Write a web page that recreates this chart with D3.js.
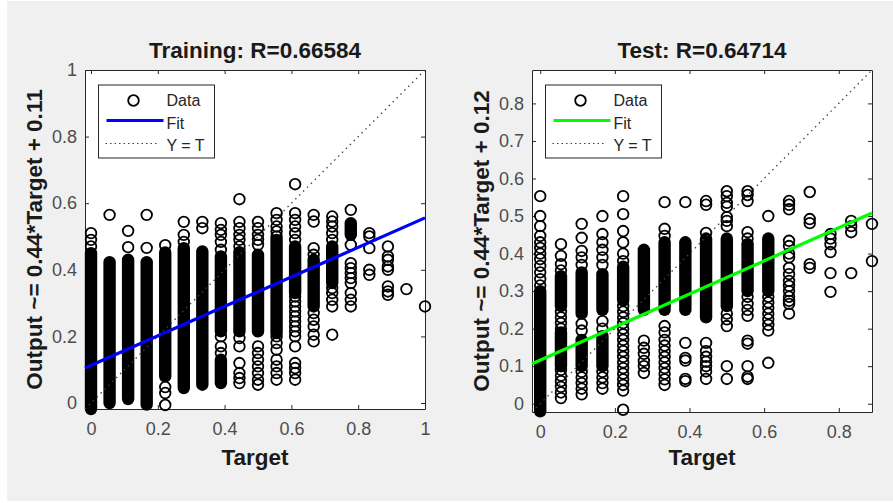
<!DOCTYPE html>
<html>
<head>
<meta charset="utf-8">
<title>Regression: Training / Test</title>
<style>
  body { margin: 0; background: #fff; }
  svg text { font-family: "Liberation Sans", Arial, sans-serif; }
</style>
</head>
<body>
<script src="https://d3js.org/d3.v7.min.js"></script>
<script>

// target values (columns of the scatter)
var targets = [0, 0.0556, 0.1111, 0.1667, 0.2222, 0.2778, 0.3333, 0.3889, 0.4444, 0.5,
               0.5556, 0.6111, 0.6667, 0.7222, 0.7778, 0.8333, 0.8889, 0.9444, 1];

// training outputs that show as separate circles, one list per target column
var trainOutputs = [
  [0.51, 0.49, 0.47],
  [0.565],
  [0.517, 0.468],
  [0.565, 0.466],
  [0.474, 0.048, 0.03, -0.006],
  [0.544, 0.505, 0.484],
  [0.544, 0.525],
  [0.54, 0.52, 0.505, 0.484, 0.46, 0.2, 0.17, 0.15],
  [0.612, 0.544, 0.525, 0.505, 0.49, 0.47, 0.195, 0.17, 0.12, 0.09, 0.075, 0.06],
  [0.544, 0.525, 0.505, 0.49, 0.475, 0.17, 0.15, 0.13, 0.11, 0.09, 0.07, 0.055],
  [0.57, 0.55, 0.53, 0.515, 0.5, 0.2, 0.18, 0.16, 0.13, 0.11, 0.09, 0.07],
  [0.657, 0.57, 0.55, 0.53, 0.51, 0.49, 0.32, 0.305, 0.29, 0.275, 0.26, 0.245, 0.23, 0.215, 0.2, 0.17, 0.12, 0.105, 0.09, 0.07],
  [0.565, 0.545, 0.465, 0.445, 0.27, 0.25, 0.23, 0.205, 0.185],
  [0.56, 0.545, 0.53, 0.51, 0.49, 0.345, 0.33, 0.31, 0.29, 0.205],
  [0.58, 0.475, 0.42, 0.405, 0.39, 0.375, 0.36, 0.33, 0.31, 0.29],
  [0.51, 0.5, 0.465, 0.4, 0.385],
  [0.47, 0.44, 0.43, 0.41, 0.4, 0.35, 0.335, 0.325],
  [0.342],
  [0.29]
];
// training stretches packed so tight they read as one black bar: [column, from, to]
var trainSolid = [
  [0, -0.018, 0.45], [1, 0.0, 0.423], [2, 0.012, 0.43], [3, -0.005, 0.423],
  [4, 0.08, 0.452], [5, 0.045, 0.465], [6, 0.055, 0.455], [7, 0.215, 0.44],
  [7, 0.06, 0.13], [8, 0.215, 0.453], [9, 0.215, 0.445], [10, 0.21, 0.49],
  [11, 0.33, 0.47], [12, 0.29, 0.43], [13, 0.36, 0.47], [14, 0.505, 0.54]
];

// test outputs, one list per target column
var testOutputs = [
  [0.553, 0.5, 0.473, 0.447, 0.43, 0.415, 0.4, 0.385, 0.367, 0.35, 0.332, 0.315],
  [0.425, 0.394, 0.372, 0.355, 0.245, 0.23, 0.215, 0.2, 0.09, 0.075, 0.06, 0.045, 0.03, 0.015],
  [0.479, 0.442, 0.407, 0.39, 0.37, 0.213, 0.195, 0.085, 0.07, 0.055, 0.04, 0.025],
  [0.5, 0.452, 0.43, 0.41, 0.39, 0.37, 0.22, 0.2, 0.085, 0.07, 0.055, 0.04],
  [0.553, 0.505, 0.46, 0.43, 0.4, 0.38, 0.26, 0.245, 0.23, 0.215, 0.2, 0.185, 0.17, 0.155,
   0.14, 0.125, 0.11, 0.095, 0.08, 0.065, 0.05, 0.035, -0.016],
  [0.168, 0.149, 0.133, 0.114, 0.1, 0.082],
  [0.537, 0.466, 0.447, 0.207, 0.19, 0.17, 0.155, 0.14, 0.125, 0.11, 0.095, 0.08, 0.065, 0.05],
  [0.537, 0.162, 0.122, 0.115, 0.066, 0.06],
  [0.54, 0.53, 0.455, 0.162, 0.14, 0.125, 0.112, 0.1, 0.086, 0.066],
  [0.566, 0.553, 0.535, 0.525, 0.497, 0.487, 0.473, 0.24, 0.225, 0.207, 0.1, 0.066],
  [0.566, 0.556, 0.54, 0.457, 0.44, 0.285, 0.266, 0.25, 0.234, 0.168, 0.16, 0.1, 0.072, 0.066],
  [0.5, 0.285, 0.27, 0.255, 0.24, 0.225, 0.21, 0.195, 0.109],
  [0.54, 0.53, 0.518, 0.434, 0.42, 0.4, 0.39, 0.362, 0.345, 0.327, 0.314, 0.3, 0.285, 0.274, 0.266, 0.24],
  [0.564, 0.492, 0.481, 0.372, 0.362],
  [0.452, 0.44, 0.425, 0.404, 0.348, 0.298],
  [0.487, 0.473, 0.457, 0.348],
  [0.479, 0.38]
];
var testSolid = [
  [0, -0.02, 0.3], [1, 0.26, 0.34], [1, 0.1, 0.19], [2, 0.24, 0.35], [2, 0.1, 0.17],
  [3, 0.25, 0.345], [3, 0.1, 0.18], [4, 0.275, 0.365], [5, 0.25, 0.41], [6, 0.25, 0.43],
  [7, 0.25, 0.43], [8, 0.23, 0.44], [9, 0.26, 0.44], [10, 0.3, 0.425], [11, 0.3, 0.44]
];

var titles = ["Training: R=0.66584", "Test: R=0.64714"];
var yLabels = ["Output ~= 0.44*Target + 0.11", "Output ~= 0.44*Target + 0.12"];
var fitLines = [[0.443, 0.113], [0.441, 0.116]];   // slope, intercept
var limits = [[-0.018, 1], [-0.022, 0.889]];
var trainTicks = [0, 0.2, 0.4, 0.6, 0.8, 1];
var testXTicks = [0, 0.2, 0.4, 0.6, 0.8];
var testYTicks = [0, 0.1, 0.2, 0.3, 0.4, 0.5, 0.6, 0.7, 0.8];
var legendLabels = ["Data", "Fit", "Y = T"];

var W = 893, H = 503;
var R = 5.3, SW = 1.8;   // marker radius and ring width

var svg = d3.select("body").append("svg")
    .attr("width", W)
    .attr("height", H);

// figure background
svg.append("rect")
    .attr("x", 7).attr("y", 1)
    .attr("width", W - 7).attr("height", 500)
    .attr("fill", "#f0f0f0");

var panels = [
  {title: titles[0], yLabel: yLabels[0], outputs: trainOutputs, solid: trainSolid,
   fit: fitLines[0], color: "#0000ff", lim: limits[0], xTicks: trainTicks, yTicks: trainTicks,
   left: 85, top: 70, right: 425, bottom: 409},
  {title: titles[1], yLabel: yLabels[1], outputs: testOutputs, solid: testSolid,
   fit: fitLines[1], color: "#00ff00", lim: limits[1], xTicks: testXTicks, yTicks: testYTicks,
   left: 532, top: 70, right: 872, bottom: 412}
];

var fmt = d3.format("~g");

panels.forEach(drawPanel);

function styleAxis(sel) {
    sel.attr("font-family", null).attr("font-size", null);
    sel.select(".domain").attr("stroke", "#262626");
    sel.selectAll(".tick line").attr("stroke", "#262626");
    sel.selectAll(".tick text")
        .attr("fill", "#4d4d4d")
        .style("font-size", "18px");
}

function drawPanel(p) {
    var x = d3.scaleLinear().domain(p.lim).range([p.left, p.right]);
    var y = d3.scaleLinear().domain(p.lim).range([p.bottom, p.top]);
    var g = svg.append("g");

    g.append("rect")
        .attr("x", p.left).attr("y", p.top)
        .attr("width", p.right - p.left).attr("height", p.bottom - p.top)
        .attr("fill", "#fff");

    // box with inward ticks on all four sides
    g.append("g").attr("transform", "translate(0," + p.bottom + ")")
        .call(d3.axisBottom(x).tickValues(p.xTicks).tickFormat(fmt)
            .tickSizeInner(-4).tickSizeOuter(0).tickPadding(13))
        .call(styleAxis);
    g.append("g").attr("transform", "translate(0," + p.top + ")")
        .call(d3.axisTop(x).tickValues(p.xTicks).tickFormat("")
            .tickSizeInner(-4).tickSizeOuter(0))
        .call(styleAxis);
    g.append("g").attr("transform", "translate(" + p.left + ",0)")
        .call(d3.axisLeft(y).tickValues(p.yTicks).tickFormat(fmt)
            .tickSizeInner(-4).tickSizeOuter(0).tickPadding(8))
        .call(styleAxis);
    g.append("g").attr("transform", "translate(" + p.right + ",0)")
        .call(d3.axisRight(y).tickValues(p.yTicks).tickFormat("")
            .tickSizeInner(-4).tickSizeOuter(0))
        .call(styleAxis);

    // dense parts of a column
    var RR = R + SW / 2;
    g.append("g").selectAll("rect")
        .data(p.solid)
        .join("rect")
        .attr("x", function(d) { return x(targets[d[0]]) - RR; })
        .attr("y", function(d) { return y(d[2]) - RR; })
        .attr("width", 2 * RR)
        .attr("height", function(d) { return y(d[1]) - y(d[2]) + 2 * RR; })
        .attr("rx", RR)
        .attr("fill", "#000");

    // single markers
    var pts = [];
    p.outputs.forEach(function(ys, i) {
        ys.forEach(function(v) { pts.push([targets[i], v]); });
    });
    g.append("g").selectAll("circle")
        .data(pts)
        .join("circle")
        .attr("cx", function(d) { return x(d[0]); })
        .attr("cy", function(d) { return y(d[1]); })
        .attr("r", R)
        .attr("fill", "none")
        .attr("stroke", "#000")
        .attr("stroke-width", SW);

    // fit line
    var a = p.fit[0], b = p.fit[1];
    g.append("line")
        .attr("x1", x(p.lim[0])).attr("y1", y(a * p.lim[0] + b))
        .attr("x2", x(p.lim[1])).attr("y2", y(a * p.lim[1] + b))
        .attr("stroke", p.color)
        .attr("stroke-width", 3.2);

    // Y = T
    g.append("line")
        .attr("x1", x(p.lim[0])).attr("y1", y(p.lim[0]))
        .attr("x2", x(p.lim[1])).attr("y2", y(p.lim[1]))
        .attr("stroke", "#404040")
        .attr("stroke-width", 1.3)
        .attr("stroke-dasharray", "1.5 4");

    // title and labels
    var cx = (p.left + p.right) / 2;
    g.append("text")
        .attr("x", cx).attr("y", 58)
        .attr("text-anchor", "middle")
        .attr("font-weight", "bold").attr("font-size", "22.5px")
        .attr("fill", "#1a1a1a")
        .text(p.title);
    g.append("text")
        .attr("x", cx).attr("y", 465)
        .attr("text-anchor", "middle")
        .attr("font-weight", "bold").attr("font-size", "22.5px")
        .attr("fill", "#1a1a1a")
        .text("Target");
    g.append("text")
        .attr("transform", "translate(" + (p.left - 43.5) + "," + ((p.top + p.bottom) / 2) + ") rotate(-90)")
        .attr("text-anchor", "middle")
        .attr("font-weight", "bold").attr("font-size", "22.5px")
        .attr("fill", "#1a1a1a")
        .text(p.yLabel);

    // legend
    var lx = p.left + 13.5, ly = 85;
    var lg = g.append("g");
    lg.append("rect")
        .attr("x", lx).attr("y", ly)
        .attr("width", 116).attr("height", 73)
        .attr("fill", "#fff")
        .attr("stroke", "#262626")
        .attr("stroke-width", 1);
    lg.append("circle")
        .attr("cx", lx + 35).attr("cy", ly + 15.5)
        .attr("r", R).attr("fill", "none")
        .attr("stroke", "#000").attr("stroke-width", SW);
    lg.append("line")
        .attr("x1", lx + 8).attr("x2", lx + 65)
        .attr("y1", ly + 35.5).attr("y2", ly + 35.5)
        .attr("stroke", p.color).attr("stroke-width", 3.2);
    lg.append("line")
        .attr("x1", lx + 7).attr("x2", lx + 60)
        .attr("y1", ly + 58.5).attr("y2", ly + 58.5)
        .attr("stroke", "#404040").attr("stroke-width", 1.2)
        .attr("stroke-dasharray", "1.5 3");
    lg.selectAll("text")
        .data(legendLabels)
        .join("text")
        .attr("x", lx + 68)
        .attr("y", function(d, i) { return ly + 21 + i * 22.7; })
        .attr("font-size", "16px")
        .attr("fill", "#262626")
        .text(function(d) { return d; });
}

</script>
</body>
</html>
